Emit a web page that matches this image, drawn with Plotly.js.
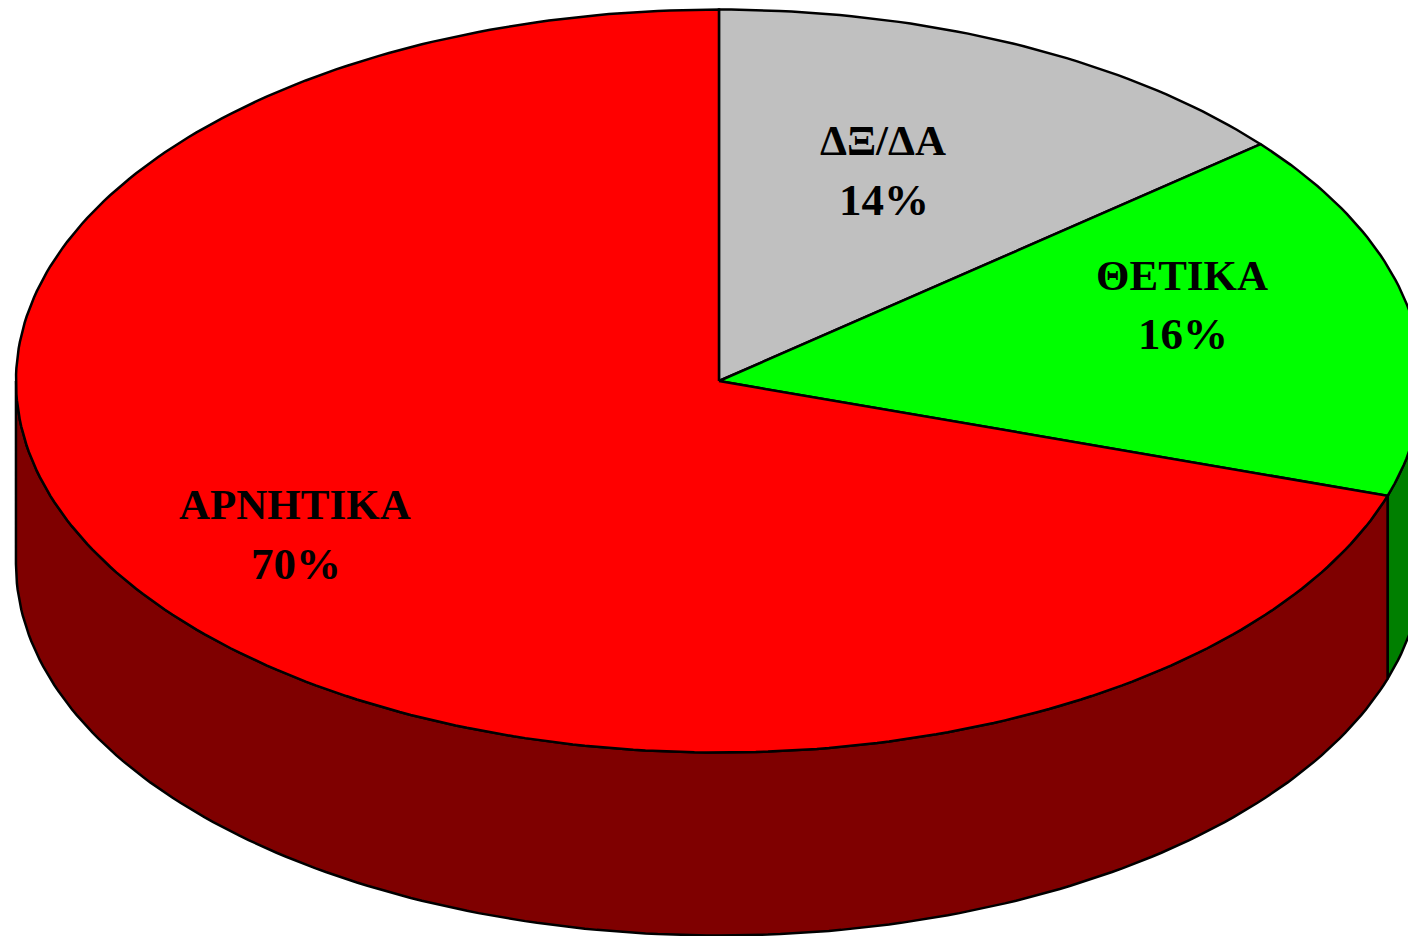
<!DOCTYPE html>
<html>
<head>
<meta charset="utf-8">
<script src="https://cdn.plot.ly/plotly-3.0.1.min.js"></script>
<style>html,body{margin:0;padding:0;background:#fff;overflow:hidden}#chart{width:1408px;height:936px}</style>
</head>
<body>
<div id="chart"></div>
<script>
// Data: slices clockwise from 12 o'clock
const categories = ["ΔΞ/ΔΑ", "ΘΕΤΙΚΑ", "ΑΡΝΗΤΙΚΑ"];
const percents = [14, 16, 70];
const topColors = ["#C0C0C0", "#00FF00", "#FF0000"];
const wallColors = ["#606060", "#007F00", "#7F0000"];
const nameX = [0.2333, 0.6586, -0.6031];
const nameY = [0.6473, 0.2840, -0.3325];
const pctX = [0.2350, 0.6600, -0.6017];
const pctY = [0.4875, 0.1268, -0.4923];

// Pie geometry (data units: top ellipse radius = 1 on both axes)
const depth = 0.4926;
const xRange = [-1.0227, 0.9801];
const yRange = [-1.4939, 1.0256];

function pt(deg, drop) {
  const r = deg * Math.PI / 180;
  return [Math.sin(r), Math.cos(r) - (drop || 0)];
}
function arc(a, b, drop) {
  const out = [];
  const n = Math.max(2, Math.ceil(Math.abs(b - a)));
  for (let i = 0; i <= n; i++) out.push(pt(a + (b - a) * i / n, drop));
  return out;
}
function poly(points, color) {
  return {
    type: "scatter", mode: "lines", fill: "toself", fillcolor: color,
    x: points.map(p => p[0]), y: points.map(p => p[1]),
    line: {color: "#000000", width: 2.5, shape: "linear"},
    hoverinfo: "skip", showlegend: false
  };
}

const traces = [];
const total = percents.reduce((s, v) => s + v, 0);
let start = 0;
const wedges = percents.map(v => {
  const a = start, b = start + v / total * 360;
  start = b;
  return [a, b];
});

// Side walls: only the front half (90°–270° clockwise from top) is visible
wedges.forEach((w, i) => {
  const a = Math.max(w[0], 90), b = Math.min(w[1], 270);
  if (b <= a) return;
  const pts = arc(a, b, 0).concat(arc(b, a, depth));
  pts.push(pts[0]);
  traces.push(poly(pts, wallColors[i]));
});

// Top faces
wedges.forEach((w, i) => {
  const pts = [[0, 0]].concat(arc(w[0], w[1], 0));
  pts.push([0, 0]);
  traces.push(poly(pts, topColors[i]));
});

function label(text, x, y, size) {
  return {
    xref: "x", yref: "y", x: x, y: y, text: text,
    showarrow: false, align: "center", xanchor: "center", yanchor: "middle",
    font: {family: "Liberation Serif", size: size, color: "#000000", weight: 700}
  };
}
const annotations = categories.map((c, i) => label(c, nameX[i], nameY[i], 43))
  .concat(percents.map((p, i) => label(p + "%", pctX[i], pctY[i], 45)));

Plotly.newPlot("chart", traces, {
  width: 1408, height: 936,
  margin: {l: 0, r: 0, t: 0, b: 0, pad: 0},
  paper_bgcolor: "#FFFFFF", plot_bgcolor: "#FFFFFF",
  showlegend: false, annotations: annotations,
  xaxis: {range: xRange, visible: false, fixedrange: true},
  yaxis: {range: yRange, visible: false, fixedrange: true}
}, {displayModeBar: false, staticPlot: true});
</script>
</body>
</html>
